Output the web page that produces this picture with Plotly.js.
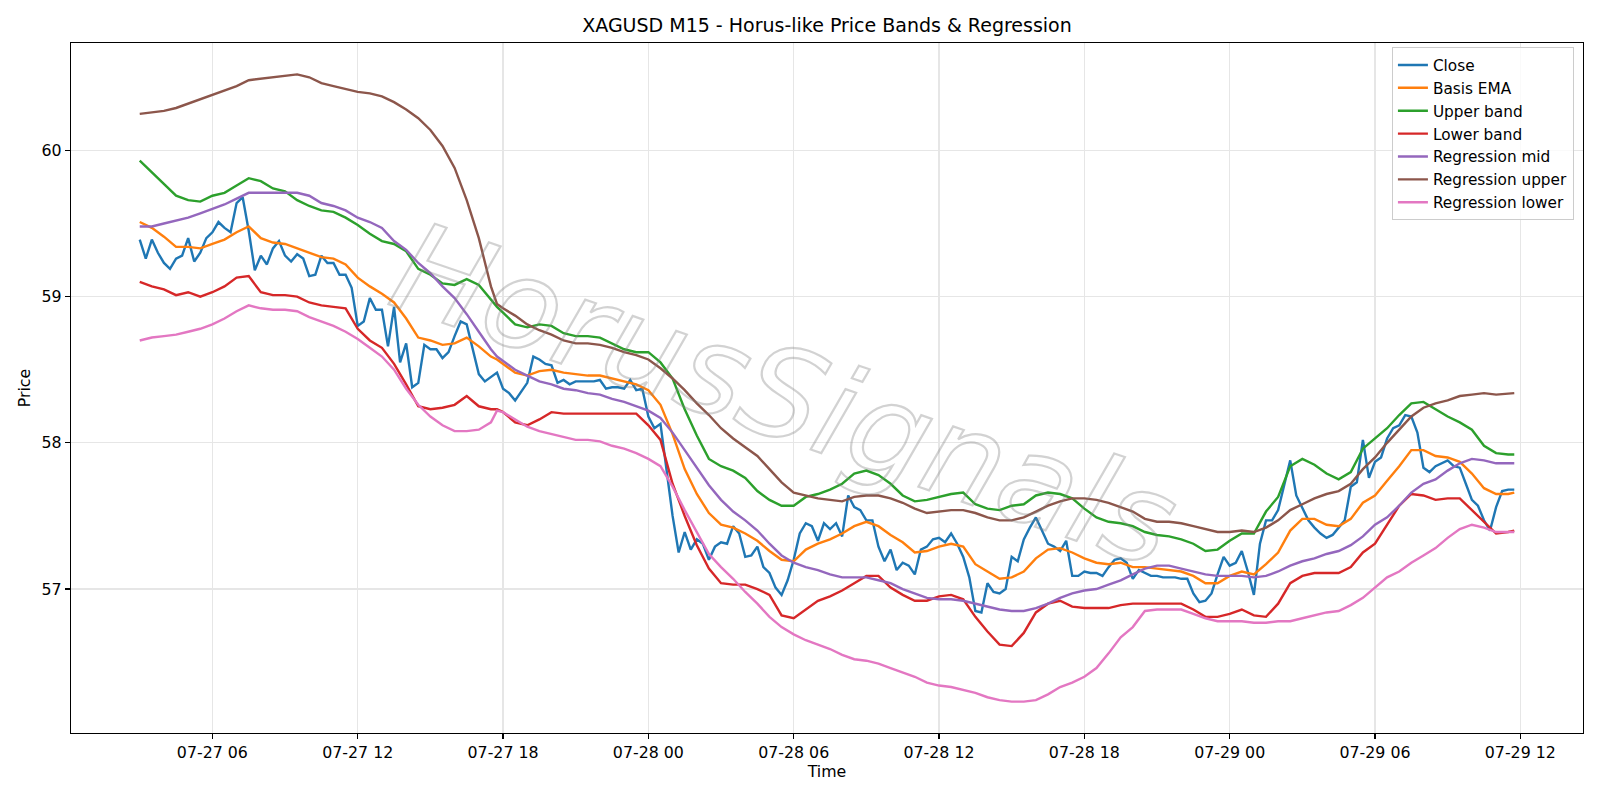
<!DOCTYPE html>
<html>
<head>
<meta charset="utf-8">
<script src="https://cdn.plot.ly/plotly-3.0.1.min.js"></script>
<style>
  html, body { margin: 0; padding: 0; background: #ffffff; }
  #chart { width: 1600px; height: 800px; }
  /* hollow, outlined watermark lettering */
  #chart .annotation-text {
    fill: none !important;
    stroke: rgba(130, 130, 130, 0.36);
    stroke-width: 2.2px;
  }
</style>
</head>
<body>
<div id="chart"></div>
<script>
// XAGUSD M15 closes, 07-27 03:00 .. 07-29 11:45, one value per 15-minute bar
const closeStart = Date.UTC(2025, 6, 27, 3, 0);
const closePrices = [
  59.39, 59.26, 59.39, 59.30, 59.23, 59.19, 59.26, 59.28, 59.40, 59.24,
  59.30, 59.40, 59.44, 59.51, 59.47, 59.44, 59.64, 59.68, 59.45, 59.18,
  59.28, 59.22, 59.33, 59.38, 59.28, 59.24, 59.29, 59.26, 59.14, 59.15,
  59.28, 59.23, 59.23, 59.15, 59.15, 59.06, 58.80, 58.83, 58.99, 58.91,
  58.91, 58.66, 58.93, 58.55, 58.68, 58.38, 58.41, 58.67, 58.64, 58.64,
  58.58, 58.62, 58.73, 58.83, 58.81, 58.65, 58.47, 58.42, 58.45, 58.48,
  58.37, 58.34, 58.29, 58.35, 58.41, 58.59, 58.57, 58.54, 58.53, 58.41,
  58.43, 58.40, 58.42, 58.42, 58.42, 58.42, 58.43, 58.37, 58.38, 58.38,
  58.37, 58.43, 58.36, 58.37, 58.18, 58.10, 58.13, 57.82, 57.50, 57.25,
  57.39, 57.27, 57.34, 57.31, 57.20, 57.29, 57.32, 57.31, 57.43, 57.38,
  57.22, 57.23, 57.29, 57.15, 57.11, 57.01, 56.96, 57.06, 57.20, 57.38,
  57.45, 57.43, 57.33, 57.45, 57.41, 57.45, 57.36, 57.64, 57.56, 57.54,
  57.47, 57.47, 57.29, 57.19, 57.27, 57.13, 57.18, 57.16, 57.10, 57.27,
  57.29, 57.34, 57.35, 57.32, 57.38, 57.31, 57.22, 57.08, 56.85, 56.84,
  57.04, 56.98, 56.97, 57.00, 57.22, 57.19, 57.34, 57.42, 57.49, 57.40,
  57.31, 57.29, 57.26, 57.33, 57.09, 57.09, 57.12, 57.11, 57.11, 57.09,
  57.15, 57.20, 57.21, 57.18, 57.07, 57.13, 57.11, 57.09, 57.09, 57.08,
  57.08, 57.08, 57.07, 57.07, 56.97, 56.91, 56.92, 56.97, 57.10, 57.22,
  57.16, 57.18, 57.26, 57.12, 56.96, 57.31, 57.47, 57.47, 57.54, 57.70,
  57.88, 57.64, 57.56, 57.47, 57.42, 57.38, 57.35, 57.37, 57.42, 57.47,
  57.70, 57.73, 58.02, 57.76, 57.87, 57.90, 58.03, 58.10, 58.12, 58.19,
  58.18, 58.07, 57.83, 57.80, 57.84, 57.86, 57.88, 57.84, 57.83, 57.72,
  57.61, 57.57, 57.47, 57.40, 57.56, 57.67, 57.68, 57.68
];

// Band / regression samples: every 30 min, plus 07-27 17:45 and the last bar 07-29 11:45
// (bar numbers count 15-minute steps from 07-27 03:00)
const bandBars = [];
for (let b = 0; b <= 58; b += 2) bandBars.push(b);
bandBars.push(59);
for (let b = 60; b <= 226; b += 2) bandBars.push(b);
bandBars.push(227);

const basisEma = [
  59.51, 59.47, 59.41, 59.34, 59.34, 59.33, 59.36, 59.39, 59.44, 59.48,
  59.40, 59.37, 59.36, 59.33, 59.30, 59.27, 59.26, 59.22, 59.13, 59.07,
  59.02, 58.96, 58.85, 58.72, 58.70, 58.67, 58.68, 58.72, 58.66, 58.59,
  58.57,
  58.54, 58.48, 58.46, 58.49, 58.50, 58.48, 58.47, 58.46, 58.46, 58.44,
  58.42, 58.40, 58.36, 58.26, 58.06, 57.82, 57.65, 57.52, 57.44, 57.42,
  57.38, 57.33, 57.26, 57.20, 57.19, 57.27, 57.31, 57.34, 57.38, 57.43,
  57.46, 57.43, 57.37, 57.32, 57.25, 57.26, 57.29, 57.31, 57.29, 57.17,
  57.12, 57.07, 57.08, 57.12, 57.21, 57.27, 57.28, 57.25, 57.21, 57.18,
  57.17, 57.18, 57.15, 57.15, 57.14, 57.13, 57.12, 57.09, 57.04, 57.04,
  57.09, 57.12, 57.10, 57.17, 57.25, 57.40, 57.48, 57.48, 57.44, 57.43,
  57.48, 57.59, 57.64, 57.74, 57.84, 57.95, 57.95, 57.91, 57.90, 57.87,
  57.79, 57.69, 57.65, 57.65,
  57.66
];

const upperBand = [
  59.93, 59.85, 59.77, 59.69, 59.66, 59.65, 59.69, 59.71, 59.76, 59.81,
  59.79, 59.74, 59.72, 59.66, 59.62, 59.59, 59.58, 59.54, 59.49, 59.43,
  59.38, 59.36, 59.31, 59.19, 59.15, 59.09, 59.08, 59.12, 59.08, 58.98,
  58.93,
  58.89, 58.81, 58.79, 58.81, 58.80, 58.75, 58.73, 58.73, 58.72, 58.68,
  58.64, 58.62, 58.62, 58.55, 58.44, 58.23, 58.05, 57.89, 57.84, 57.81,
  57.76, 57.67, 57.61, 57.57, 57.57, 57.63, 57.65, 57.68, 57.72, 57.79,
  57.81, 57.78, 57.72, 57.64, 57.60, 57.61, 57.63, 57.65, 57.66, 57.58,
  57.55, 57.54, 57.57, 57.58, 57.64, 57.66, 57.65, 57.62, 57.55, 57.49,
  57.46, 57.45, 57.43, 57.39, 57.37, 57.36, 57.34, 57.31, 57.26, 57.27,
  57.33, 57.38, 57.38, 57.53, 57.63, 57.84, 57.89, 57.85, 57.79, 57.75,
  57.80, 57.96, 58.03, 58.10, 58.19, 58.27, 58.28, 58.23, 58.18, 58.14,
  58.09, 57.98, 57.93, 57.92,
  57.92
];

const lowerBand = [
  59.10, 59.07, 59.05, 59.01, 59.03, 59.00, 59.03, 59.07, 59.13, 59.14,
  59.03, 59.01, 59.01, 59.00, 58.96, 58.94, 58.93, 58.92, 58.78, 58.70,
  58.65, 58.54, 58.40, 58.25, 58.23, 58.24, 58.26, 58.32, 58.25, 58.23,
  58.23,
  58.21, 58.14, 58.12, 58.16, 58.21, 58.20, 58.20, 58.20, 58.20, 58.20,
  58.20, 58.20, 58.12, 58.02, 57.72, 57.50, 57.30, 57.14, 57.04, 57.03,
  57.03, 57.00, 56.96, 56.82, 56.80, 56.86, 56.92, 56.95, 56.99, 57.04,
  57.09, 57.09, 57.01, 56.96, 56.92, 56.92, 56.95, 56.96, 56.93, 56.81,
  56.71, 56.62, 56.61, 56.70, 56.84, 56.90, 56.92, 56.88, 56.87, 56.87,
  56.87, 56.89, 56.90, 56.90, 56.90, 56.90, 56.90, 56.86, 56.81, 56.81,
  56.83, 56.86, 56.82, 56.81, 56.90, 57.04, 57.09, 57.11, 57.11, 57.11,
  57.15, 57.25, 57.31, 57.44, 57.57, 57.65, 57.64, 57.61, 57.62, 57.62,
  57.54, 57.46, 57.38, 57.39,
  57.40
];

const regressionMid = [
  59.48, 59.48, 59.50, 59.52, 59.54, 59.57, 59.60, 59.63, 59.67, 59.71,
  59.71, 59.71, 59.71, 59.71, 59.69, 59.64, 59.62, 59.59, 59.54, 59.51,
  59.47, 59.38, 59.32, 59.23, 59.16, 59.07, 58.99, 58.88, 58.76, 58.64,
  58.59,
  58.56, 58.50, 58.46, 58.42, 58.40, 58.37, 58.36, 58.34, 58.33, 58.30,
  58.28, 58.25, 58.22, 58.17, 58.07, 57.95, 57.83, 57.71, 57.61, 57.53,
  57.47, 57.40, 57.31, 57.23, 57.18, 57.15, 57.13, 57.10, 57.08, 57.08,
  57.08, 57.06, 57.04, 57.00, 56.97, 56.94, 56.93, 56.93, 56.92, 56.90,
  56.88, 56.86, 56.85, 56.85, 56.87, 56.90, 56.94, 56.97, 56.99, 57.00,
  57.03, 57.06, 57.10, 57.14, 57.16, 57.16, 57.14, 57.12, 57.10, 57.09,
  57.09, 57.09, 57.08, 57.09, 57.12, 57.16, 57.19, 57.21, 57.24, 57.26,
  57.30, 57.36, 57.44, 57.49, 57.57, 57.66, 57.72, 57.75, 57.81, 57.86,
  57.89, 57.88, 57.86, 57.86,
  57.86
];

const regressionUpper = [
  60.25, 60.26, 60.27, 60.29, 60.32, 60.35, 60.38, 60.41, 60.44, 60.48,
  60.49, 60.50, 60.51, 60.52, 60.50, 60.46, 60.44, 60.42, 60.40, 60.39,
  60.37, 60.33, 60.28, 60.22, 60.14, 60.03, 59.88, 59.66, 59.40, 59.07,
  58.95,
  58.92, 58.87, 58.81, 58.77, 58.74, 58.70, 58.68, 58.68, 58.67, 58.65,
  58.62, 58.60, 58.57, 58.51, 58.44, 58.36, 58.27, 58.19, 58.10, 58.03,
  57.97, 57.91, 57.82, 57.73, 57.66, 57.64, 57.62, 57.61, 57.60, 57.63,
  57.64, 57.64, 57.62, 57.59, 57.55, 57.52, 57.53, 57.54, 57.54, 57.52,
  57.49, 57.47, 57.47, 57.49, 57.53, 57.57, 57.60, 57.62, 57.62, 57.61,
  57.59, 57.56, 57.53, 57.48, 57.46, 57.46, 57.45, 57.43, 57.41, 57.39,
  57.39, 57.40, 57.39, 57.42, 57.47, 57.54, 57.58, 57.62, 57.65, 57.67,
  57.72, 57.82, 57.90, 58.00, 58.09, 58.18, 58.24, 58.27, 58.29, 58.32,
  58.33, 58.34, 58.33, 58.34,
  58.34
];

const regressionLower = [
  58.70, 58.72, 58.73, 58.74, 58.76, 58.78, 58.81, 58.85, 58.90, 58.94,
  58.92, 58.91, 58.91, 58.90, 58.86, 58.83, 58.80, 58.76, 58.71, 58.65,
  58.59, 58.50, 58.37, 58.26, 58.18, 58.12, 58.08, 58.08, 58.09, 58.14,
  58.22,
  58.21, 58.16, 58.11, 58.08, 58.06, 58.04, 58.02, 58.02, 58.01, 57.98,
  57.96, 57.93, 57.89, 57.84, 57.70, 57.54, 57.39, 57.24, 57.15, 57.07,
  56.98, 56.90, 56.81, 56.74, 56.69, 56.65, 56.62, 56.59, 56.55, 56.52,
  56.51, 56.49, 56.46, 56.43, 56.40, 56.36, 56.34, 56.33, 56.31, 56.29,
  56.26, 56.24, 56.23, 56.23, 56.24, 56.28, 56.33, 56.36, 56.40, 56.46,
  56.56, 56.67, 56.74, 56.85, 56.86, 56.86, 56.86, 56.83, 56.80, 56.78,
  56.78, 56.78, 56.77, 56.77, 56.78, 56.78, 56.80, 56.82, 56.84, 56.85,
  56.89, 56.94, 57.01, 57.08, 57.12, 57.18, 57.23, 57.28, 57.35, 57.41,
  57.44, 57.42, 57.39, 57.39,
  57.39
];

// timestamp of a 15-minute bar
function barTime(b) {
  const d = new Date(closeStart + b * 15 * 60000);
  return d.toISOString().slice(0, 16).replace('T', ' ');
}
const closeTimes = closePrices.map((_, b) => barTime(b));
const bandTimes = bandBars.map(barTime);

const FONT = 'DejaVu Sans, Liberation Sans, sans-serif';
const LW = 2.4;
const TXT = 15.8;

function line(name, x, y, color) {
  return { type: 'scatter', mode: 'lines', name: name, x: x, y: y,
           line: { color: color, width: LW }, hoverinfo: 'skip' };
}

const traces = [
  line('Close', closeTimes, closePrices, '#1f77b4'),
  line('Basis EMA', bandTimes, basisEma, '#ff7f0e'),
  line('Upper band', bandTimes, upperBand, '#2ca02c'),
  line('Lower band', bandTimes, lowerBand, '#d62728'),
  line('Regression mid', bandTimes, regressionMid, '#9467bd'),
  line('Regression upper', bandTimes, regressionUpper, '#8c564b'),
  line('Regression lower', bandTimes, regressionLower, '#e377c2')
];

const axisCommon = {
  showline: true, mirror: true, linecolor: '#000000', linewidth: 1.2,
  ticks: 'outside', ticklen: 5, tickwidth: 1.2, tickcolor: '#000000',
  showgrid: true, gridcolor: '#e6e6e6', gridwidth: 1.2,
  zeroline: false, automargin: false,
  tickfont: { family: FONT, size: TXT, color: '#000000' }
};

const layout = {
  width: 1600, height: 800,
  margin: { l: 71, r: 17, t: 43, b: 67 },
  paper_bgcolor: '#ffffff', plot_bgcolor: '#ffffff',
  font: { family: FONT, color: '#000000' },
  title: {
    text: 'XAGUSD M15 - Horus-like Price Bands & Regression',
    font: { family: FONT, size: 19, color: '#000000' },
    x: 0.5, xref: 'paper', y: 0.968, yref: 'container', yanchor: 'middle'
  },
  xaxis: Object.assign({}, axisCommon, {
    type: 'date',
    range: ['2025-07-27 00:09:45', '2025-07-29 14:35:15'],
    tick0: '2025-07-27 00:00', dtick: 6 * 3600 * 1000,
    tickformat: '%m-%d %H',
    title: { text: 'Time', font: { family: FONT, size: TXT }, standoff: 4 }
  }),
  yaxis: Object.assign({}, axisCommon, {
    range: [56.0155, 60.7345],
    tick0: 57, dtick: 1,
    title: { text: 'Price', font: { family: FONT, size: TXT }, standoff: 7 }
  }),
  showlegend: true,
  legend: {
    x: 0.994, xanchor: 'right', y: 0.9935, yanchor: 'top',
    bgcolor: 'rgba(255,255,255,0.8)', bordercolor: '#cccccc', borderwidth: 1,
    font: { family: FONT, size: 15.3, color: '#000000' }
  },
  annotations: [{
    text: 'HorusSignals', xref: 'paper', yref: 'paper',
    x: 0.472, y: 0.49, xanchor: 'center', yanchor: 'middle',
    showarrow: false, textangle: 19,
    font: { family: FONT, size: 125, style: 'italic', color: 'rgba(150,150,150,0.3)' }
  }],
  hovermode: false
};

Plotly.newPlot('chart', traces, layout, { staticPlot: true, displayModeBar: false });
</script>
</body>
</html>
